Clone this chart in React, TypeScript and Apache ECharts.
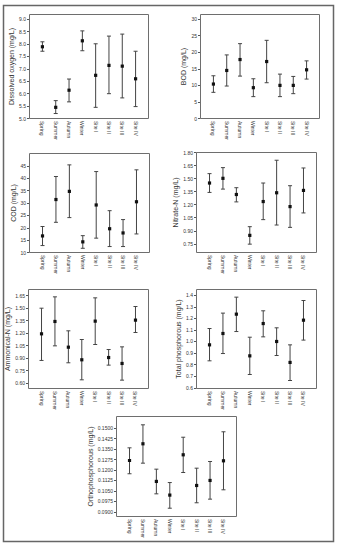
import React, { useEffect, useRef } from "react";
import * as echarts from "echarts";

const categories = ["Spring", "Summer", "Autumn", "Winter", "Site I", "Site II", "Site III", "Site IV"];

const doMean = [7.89, 5.45, 6.14, 8.13, 6.74, 7.14, 7.11, 6.6];
const doLow = [7.71, 5.2, 5.67, 7.73, 5.45, 6.0, 5.83, 5.48];
const doHigh = [8.09, 5.72, 6.59, 8.53, 8.01, 8.32, 8.4, 7.71];
const doTicks = [5.0, 5.5, 6.0, 6.5, 7.0, 7.5, 8.0, 8.5, 9.0];

const bodMean = [10.4, 14.5, 17.8, 9.3, 17.2, 10.0, 10.0, 14.7];
const bodLow = [7.9, 9.8, 12.8, 6.6, 10.8, 6.6, 7.5, 11.9];
const bodHigh = [12.9, 19.2, 22.6, 12.0, 23.6, 13.4, 12.7, 17.4];
const bodTicks = [0, 5, 10, 15, 20, 25, 30];

const codMean = [16.7, 31.4, 34.7, 14.3, 29.2, 19.6, 17.9, 30.5];
const codLow = [12.8, 22.2, 24.1, 11.7, 15.8, 12.4, 12.4, 17.5];
const codHigh = [20.5, 40.7, 45.4, 16.8, 42.7, 26.9, 23.3, 43.4];
const codTicks = [10, 15, 20, 25, 30, 35, 40, 45];

const no3Mean = [1.449, 1.503, 1.317, 0.847, 1.236, 1.337, 1.178, 1.364];
const no3Low = [1.341, 1.379, 1.232, 0.746, 1.028, 0.966, 0.939, 1.105];
const no3High = [1.557, 1.626, 1.395, 0.947, 1.449, 1.711, 1.418, 1.622];
const no3Ticks = [0.75, 0.9, 1.05, 1.2, 1.35, 1.5, 1.65, 1.8];

const nh4Mean = [1.191, 1.339, 1.031, 0.88, 1.343, 0.907, 0.836, 1.355];
const nh4Low = [0.872, 1.047, 0.844, 0.64, 1.063, 0.816, 0.636, 1.207];
const nh4High = [1.498, 1.634, 1.227, 1.123, 1.622, 1.003, 1.035, 1.518];
const nh4Ticks = [0.6, 0.75, 0.9, 1.05, 1.2, 1.35, 1.5, 1.65];

const tpMean = [0.971, 1.069, 1.236, 0.876, 1.155, 1.0, 0.819, 1.184];
const tpLow = [0.833, 0.896, 1.086, 0.715, 1.04, 0.879, 0.663, 1.012];
const tpHigh = [1.112, 1.245, 1.383, 1.037, 1.265, 1.118, 0.971, 1.354];
const tpTicks = [0.6, 0.7, 0.8, 0.9, 1.0, 1.1, 1.2, 1.3, 1.4];

const opMean = [0.1268, 0.1388, 0.1118, 0.102, 0.1309, 0.1089, 0.1125, 0.1266];
const opLow = [0.1173, 0.1249, 0.1029, 0.0926, 0.1182, 0.0965, 0.0991, 0.1058];
const opHigh = [0.1359, 0.1524, 0.1206, 0.111, 0.1435, 0.1213, 0.1261, 0.1474];
const opTicks = [0.09, 0.0975, 0.105, 0.1125, 0.12, 0.1275, 0.135, 0.1425, 0.15];

const FONT = "Liberation Sans";

const panels = [
  { title: "Dissolved oxygen (mg/L)", mean: doMean, low: doLow, high: doHigh, ticks: doTicks, dec: 1, min: 5.0, max: 9.19,
    box: { left: 29.5, top: 14.5, width: 119, height: 104 }, gap: 13.5 },
  { title: "BOD (mg/L)", mean: bodMean, low: bodLow, high: bodHigh, ticks: bodTicks, dec: 0, min: 0, max: 31.4,
    box: { left: 200.5, top: 14.5, width: 119, height: 104 }, gap: 14 },
  { title: "COD (mg/L)", mean: codMean, low: codLow, high: codHigh, ticks: codTicks, dec: 0, min: 10, max: 50,
    box: { left: 29.5, top: 153.5, width: 120, height: 99 }, gap: 12.5 },
  { title: "Nitrate-N (mg/L)", mean: no3Mean, low: no3Low, high: no3High, ticks: no3Ticks, dec: 2, min: 0.65, max: 1.8,
    box: { left: 196.5, top: 152.5, width: 120, height: 100 }, gap: 13.5 },
  { title: "Ammonical-N (mg/L)", mean: nh4Mean, low: nh4Low, high: nh4High, ticks: nh4Ticks, dec: 2, min: 0.536, max: 1.722,
    box: { left: 28.5, top: 289.5, width: 120, height: 99 }, gap: 14 },
  { title: "Total phosphorous (mg/L)", mean: tpMean, low: tpLow, high: tpHigh, ticks: tpTicks, dec: 1, min: 0.594, max: 1.449,
    box: { left: 196.5, top: 289.5, width: 120, height: 99 }, gap: 10.5 },
  { title: "Orthophosphorous (mg/L)", mean: opMean, low: opLow, high: opHigh, ticks: opTicks, dec: 4, min: 0.08665, max: 0.15837,
    box: { left: 116.5, top: 416.5, width: 120, height: 100 }, gap: 19 },
];

const xIdx = categories.map((_, i) => i);

function renderErrorBar(params: any, api: any) {
  const x = api.value(0);
  const top = api.coord([x, api.value(3)]);
  const bot = api.coord([x, api.value(2)]);
  const mid = api.coord([x, api.value(1)]);
  const cw = 2;
  const ls = { stroke: "#444", lineWidth: 1 };
  return {
    type: "group",
    children: [
      { type: "line", shape: { x1: top[0], y1: top[1], x2: bot[0], y2: bot[1] }, style: ls },
      { type: "line", shape: { x1: top[0] - cw, y1: top[1], x2: top[0] + cw, y2: top[1] }, style: ls },
      { type: "line", shape: { x1: bot[0] - cw, y1: bot[1], x2: bot[0] + cw, y2: bot[1] }, style: ls },
      { type: "rect", shape: { x: mid[0] - 1.6, y: mid[1] - 1.6, width: 3.2, height: 3.2 }, style: { fill: "#111" } },
    ],
  };
}

export default function App() {
  const ref = useRef<HTMLDivElement>(null);
  useEffect(() => {
    if (!ref.current) return;
    const chart = echarts.init(ref.current, null, { renderer: "svg" });
    const option: any = {
      animation: false,
      backgroundColor: "#fff",
      graphic: [
        {
          type: "rect",
          shape: { x: 3.5, y: 5.5, width: 330, height: 536 },
          style: { fill: "none", stroke: "#666", lineWidth: 1.5 },
          silent: true,
          z: 10,
        },
        ...panels.map((p) => ({
          type: "rect",
          shape: { x: p.box.left, y: p.box.top, width: p.box.width, height: p.box.height },
          style: { fill: "none", stroke: "#6e6e6e", lineWidth: 1 },
          silent: true,
          z: 10,
        })),
      ],
      grid: panels.map((p) => ({
        ...p.box,
        show: false,
        containLabel: false,
        outerBoundsMode: "none",
      })),
      xAxis: panels.map((p, i) => ({
        type: "value",
        gridIndex: i,
        position: "bottom",
        min: -0.97,
        max: 7.97,
        axisLine: { show: false, onZero: false },
        axisTick: { show: false },
        splitLine: { show: false },
        axisLabel: {
          customValues: xIdx,
          formatter: (v: number) => categories[Math.round(v)] ?? "",
          rotate: -90,
          fontSize: 5,
          fontFamily: FONT,
          color: "#333",
          margin: 2.5,
          hideOverlap: false,
        },
      })),
      yAxis: panels.map((p, i) => ({
        type: "value",
        gridIndex: i,
        position: "left",
        min: p.min,
        max: p.max,
        name: p.title,
        nameLocation: "middle",
        nameRotate: 90,
        nameGap: p.gap,
        nameTextStyle: { fontSize: 7, fontFamily: FONT, color: "#333" },
        axisLine: { show: false, onZero: false },
        splitLine: { show: false },
        axisTick: { show: true, length: 2.5, customValues: p.ticks, lineStyle: { color: "#555", width: 1 } },
        axisLabel: {
          customValues: p.ticks,
          formatter: (v: number) => v.toFixed(p.dec),
          fontSize: 5,
          fontFamily: FONT,
          color: "#333",
          margin: 3.5,
          hideOverlap: false,
        },
      })),
      series: panels.map((p, i) => ({
        type: "custom",
        xAxisIndex: i,
        yAxisIndex: i,
        renderItem: renderErrorBar,
        encode: { x: 0, y: [1, 2, 3] },
        data: xIdx.map((k) => [k, p.mean[k], p.low[k], p.high[k]]),
        clip: false,
      })),
    };
    chart.setOption(option);
    return () => chart.dispose();
  }, []);
  return (
    <div
      ref={ref}
      style={{ position: "absolute", left: 0, top: 0, width: 339, height: 550, background: "#fff" }}
    />
  );
}
